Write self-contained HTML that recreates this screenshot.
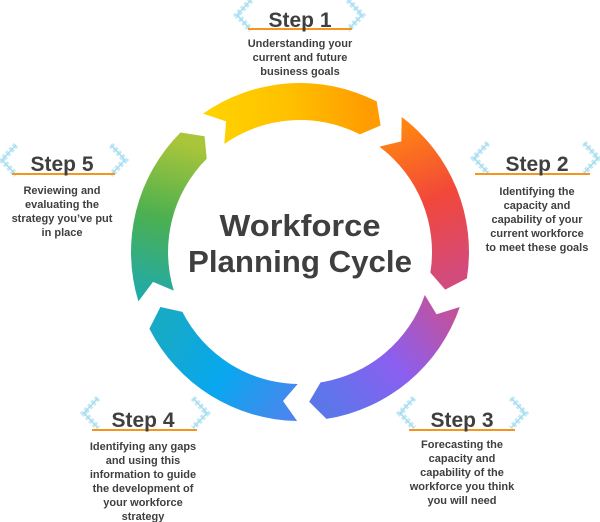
<!DOCTYPE html>
<html><head><meta charset="utf-8"><style>
html,body{margin:0;padding:0;background:#fff;}
svg{display:block;}
text{font-family:"Liberation Sans",sans-serif;font-weight:bold;fill:#3f3f3f;}
</style></head><body>
<svg id="s" width="600" height="522" viewBox="0 0 600 522" xmlns="http://www.w3.org/2000/svg">
<defs id="d"></defs>
<g id="ring"></g>
<g id="deco"></g>
<text x="300" y="236" text-anchor="middle" font-size="31" textLength="161" lengthAdjust="spacingAndGlyphs">Workforce</text>
<text x="300" y="272" text-anchor="middle" font-size="31" textLength="224" lengthAdjust="spacingAndGlyphs">Planning Cycle</text>
<g id="labels"></g>
</svg>
<script>
var NS="http://www.w3.org/2000/svg";
var C=[300,252],Ro=169,Ri=132,Rm=150;
function pt(a,r){var t=a*Math.PI/180;return [C[0]+r*Math.sin(t),C[1]-r*Math.cos(t)];}
function f(p){return p[0].toFixed(1)+","+p[1].toFixed(1);}
var cols=[["#ffd200","#ffc000","#ff9c00"],["#ff8412","#f2473a","#d34b7a"],["#c2519c","#8a5ff0","#5c76ea"],["#4a86ee","#08a7ef","#17aac6"],["#22aaa6","#4cb050","#a9c53a"]];
var d=document.getElementById("d"),ring=document.getElementById("ring");
for(var i=0;i<5;i++){
 var t0=-35+72*i,t1=t0+62;
 var a=pt(t0,Ro),b=pt(t1,Ro),tip=pt(t1+5.5,Rm),c=pt(t1,Ri),e=pt(t0,Ri),n=pt(t0+5.5,Rm);
 var g=document.createElementNS(NS,"linearGradient");g.setAttribute("id","g"+i);g.setAttribute("gradientUnits","userSpaceOnUse");
 var p0=pt(t0,Rm),p1=pt(t1,Rm);
 g.setAttribute("x1",p0[0]);g.setAttribute("y1",p0[1]);g.setAttribute("x2",p1[0]);g.setAttribute("y2",p1[1]);
 for(var k=0;k<3;k++){var s=document.createElementNS(NS,"stop");s.setAttribute("offset",k/2);s.setAttribute("stop-color",cols[i][k]);g.appendChild(s);}
 d.appendChild(g);
 var path=document.createElementNS(NS,"path");
 path.setAttribute("d","M"+f(a)+" A"+Ro+","+Ro+" 0 0 1 "+f(b)+" L"+f(tip)+" L"+f(c)+" A"+Ri+","+Ri+" 0 0 0 "+f(e)+" L"+f(n)+" Z");
 path.setAttribute("fill","url(#g"+i+")");ring.appendChild(path);
}
var steps=[
 {cx:300,by:27,uy:29,ux:[248,352],bl:237,br:362,cy:15,n:"Step 1",lines:["Understanding your","current and future","business goals"],ly:47},
 {cx:537,by:171,uy:174,ux:[475,590],bl:474,br:598,cy:158,n:"Step 2",lines:["Identifying the","capacity and","capability of your","current workforce","to meet these goals"],ly:195},
 {cx:462,by:427,uy:430,ux:[409,515],bl:400,br:525,cy:413,n:"Step 3",lines:["Forecasting the","capacity and","capability of the","workforce you think","you will need"],ly:448},
 {cx:143,by:427,uy:430,ux:[92,197],bl:84,br:207,cy:413,n:"Step 4",lines:["Identifying any gaps","and using this","information to guide","the development of","your workforce","strategy"],ly:450},
 {cx:62,by:171,uy:174,ux:[12,115],bl:2,br:125,cy:160,n:"Step 5",lines:["Reviewing and","evaluating the","strategy you\u2019ve put","in place"],ly:194}
];
var deco=document.getElementById("deco"),lab=document.getElementById("labels");
function el(tag,attrs,par,txt){var e=document.createElementNS(NS,tag);for(var k in attrs)e.setAttribute(k,attrs[k]);if(txt)e.textContent=txt;par.appendChild(e);return e;}
steps.forEach(function(s){
 var pl=[[s.bl+14,s.cy-15],[s.bl,s.cy],[s.bl+14,s.cy+15]],pr=[[s.br-14,s.cy-15],[s.br,s.cy],[s.br-14,s.cy+15]];
 [pl,pr].forEach(function(p){
  var ps=p.map(function(q){return q.join(",")}).join(" ");
  el("polyline",{points:ps,fill:"none",stroke:"#c4e9f6","stroke-width":"6","stroke-dasharray":"3 2"},deco);
  el("polyline",{points:ps,fill:"none",stroke:"#a6dcef","stroke-width":"1.5"},deco);
 });
 el("line",{x1:s.ux[0],x2:s.ux[1],y1:s.uy,y2:s.uy,stroke:"#f7941d","stroke-width":"2"},deco);
 el("text",{x:s.cx,y:s.by,"text-anchor":"middle","font-size":"21",textLength:"63",lengthAdjust:"spacingAndGlyphs"},lab,s.n);
 s.lines.forEach(function(l,j){el("text",{x:s.cx,y:s.ly+14*j,"text-anchor":"middle","font-size":"11"},lab,l);});
});
</script>
</body></html>
